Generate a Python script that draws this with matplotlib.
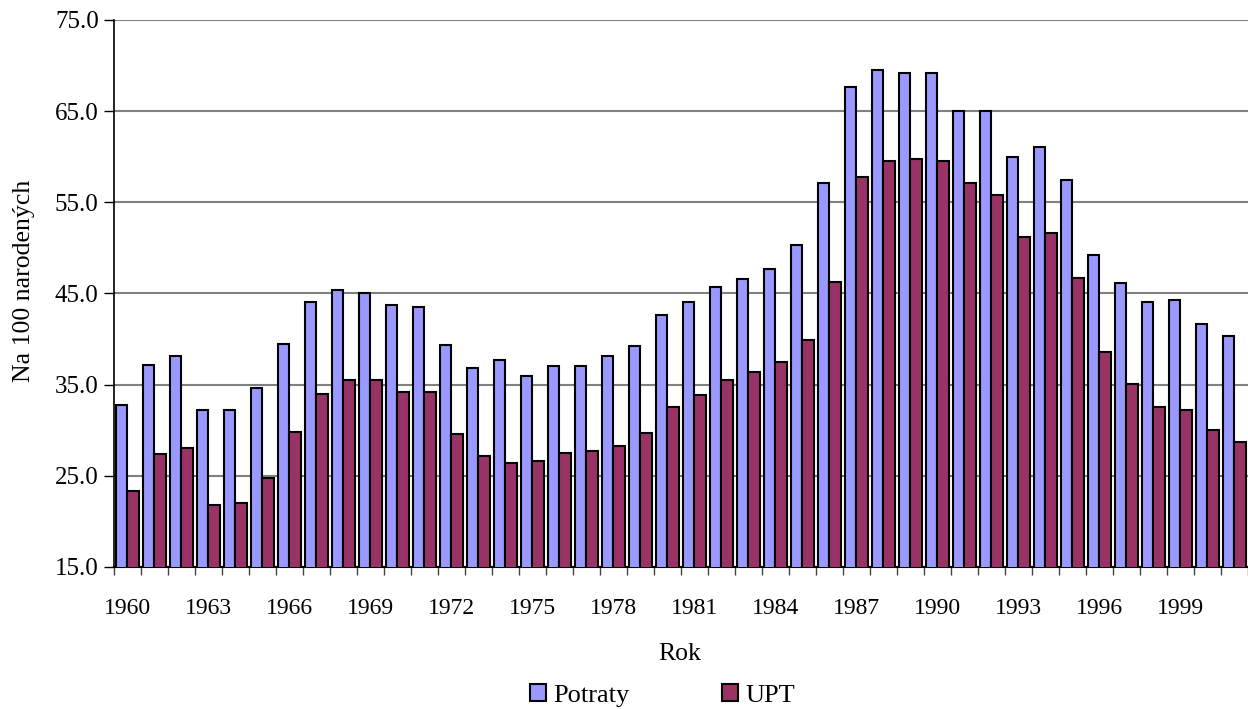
import numpy as np
import matplotlib
matplotlib.use('Agg')
import matplotlib.pyplot as plt
from matplotlib.patches import Patch

plt.rcParams['font.family'] = ['Liberation Serif', 'DejaVu Serif']

roky = list(range(1960, 2002))
potraty = [32.8, 37.2, 38.1, 32.2, 32.2, 34.6, 39.5, 44.1, 45.4, 45.0,
           43.7, 43.5, 39.3, 36.8, 37.7, 35.9, 37.0, 37.0, 38.1, 39.2,
           42.6, 44.1, 45.7, 46.6, 47.7, 50.3, 57.1, 67.6, 69.5, 69.2,
           69.2, 65.0, 65.0, 60.0, 61.1, 57.4, 49.2, 46.1, 44.1, 44.3,
           41.7, 40.3]
upt = [23.3, 27.4, 28.1, 21.8, 22.0, 24.8, 29.8, 34.0, 35.5, 35.5,
       34.2, 34.2, 29.6, 27.2, 26.4, 26.6, 27.5, 27.7, 28.3, 29.7,
       32.6, 33.9, 35.5, 36.4, 37.5, 39.9, 46.3, 57.8, 59.5, 59.7,
       59.5, 57.1, 55.8, 51.2, 51.6, 46.7, 38.6, 35.1, 32.6, 32.2,
       30.0, 28.7]
y_ticks = [15, 25, 35, 45, 55, 65, 75]

fs_tick = 17
fs_lab = 18.5

fig = plt.figure(figsize=(12.48, 7.09), dpi=100)
ax = fig.add_axes([0.0913, 0.2003, 0.9087, 0.7715])

x = np.arange(len(roky))
w = 0.41
ax.bar(x - w / 2, potraty, w, color='#9999FF', edgecolor='black', linewidth=1.5,
       zorder=3, label='Potraty')
ax.bar(x + w / 2, upt, w, color='#993366', edgecolor='black', linewidth=1.5,
       zorder=3, label='UPT')

ax.set_ylim(15, 75)
ax.set_xlim(-0.5, len(roky) - 0.5)
ax.set_yticks(y_ticks)
ax.set_yticklabels([f'{v:.1f}' for v in y_ticks], fontsize=18)
ax.yaxis.grid(True, color='#808080', linewidth=1.5, zorder=0)

# ticky na hraniciach kategorii, popisky kazdy treti rok
ax.set_xticks(np.arange(len(roky) + 1) - 0.5)
ax.set_xticklabels([])
ax.set_xticks(x[::3], minor=True)
ax.set_xticklabels([str(r) for r in roky[::3]], minor=True, fontsize=fs_tick)
ax.tick_params(axis='x', which='major', length=6, width=1, color='#444444')
ax.tick_params(axis='x', which='minor', length=0, pad=22)
ax.tick_params(axis='y', length=7, width=1, pad=4)

for s in ['top', 'right']:
    ax.spines[s].set_visible(False)
ax.spines['left'].set_linewidth(1.2)
ax.spines['bottom'].set_linewidth(1.5)

ax.set_ylabel('Na 100 narodených', fontsize=fs_lab)
ax.yaxis.set_label_coords(-0.0700, 0.523)
ax.set_xlabel('Rok', fontsize=fs_lab)
ax.xaxis.set_label_coords(0.499, -0.139)

handles = [Patch(facecolor='#9999FF', edgecolor='black', linewidth=1.5, label='Potraty'),
           Patch(facecolor='#993366', edgecolor='black', linewidth=1.5, label='UPT')]
fig.legend(handles=handles, loc='center', bbox_to_anchor=(0.531, 0.019), ncol=2,
           frameon=False, fontsize=19, handlelength=0.6, handleheight=0.6,
           handletextpad=0.3, columnspacing=3.5)

fig.savefig('out.png', dpi=100)
